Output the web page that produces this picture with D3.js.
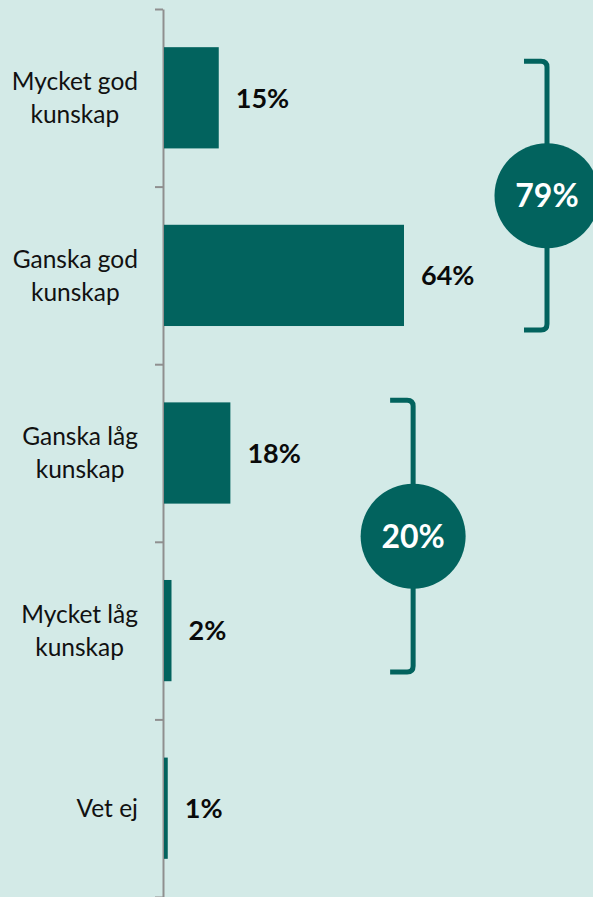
<!DOCTYPE html>
<html>
<head>
<meta charset="utf-8">
<script src="https://cdn.jsdelivr.net/npm/d3@7"></script>
<style>
  html, body { margin: 0; padding: 0; background: #d3eae7; }
  svg { display: block; font-family: Lato, "Open Sans", sans-serif; }
  .cat { font-size: 24.5px; fill: #111; }
  .val { font-size: 27px; font-weight: 700; fill: #0a0a0a; }
  .bubble-text { font-size: 32px; font-weight: 700; fill: #fff; }
</style>
</head>
<body>
<div id="chart"></div>
<script>
const categories = ['Mycket god kunskap', 'Ganska god kunskap', 'Ganska låg kunskap', 'Mycket låg kunskap', 'Vet ej'];
const values = [14.6, 64, 17.7, 2, 1];
const valueLabels = ['15%', '64%', '18%', '2%', '1%'];

// summary brackets: first/last category index, label, x position in percent units
const groupLabels = ['79%', '20%'];
const groupFrom = [0, 2];
const groupTo = [1, 3];
const groupAt = [102.4, 66.7];
const groupTopFrac = [0.14, -0.02];
const groupBottomFrac = [1.04, 0.91];

const width = 593, height = 897;
const margin = { top: 9, left: 163 };
const teal = '#02635e';

const svg = d3.select('#chart').append('svg')
  .attr('width', width)
  .attr('height', height);

svg.append('rect')
  .attr('width', width).attr('height', height)
  .attr('fill', '#d3eae7');

const x = d3.scaleLinear()
  .domain([0, 100])
  .range([margin.left, margin.left + 375]);

const y = d3.scaleBand()
  .domain(categories)
  .range([margin.top, height])
  .paddingInner(0.43)
  .paddingOuter(0.215);

const bw = y.bandwidth();

// axis with ticks on band boundaries
const yEdges = d3.scaleLinear()
  .domain([0, categories.length])
  .range([margin.top, height]);

const axisG = svg.append('g')
  .attr('transform', 'translate(' + margin.left + ',0)')
  .call(d3.axisLeft(yEdges)
    .tickValues(d3.range(0, categories.length + 1))
    .tickSize(8)
    .tickSizeOuter(0)
    .tickFormat(''));
axisG.selectAll('path, line').attr('stroke', '#8f8f8f').attr('stroke-width', 2);

// bars
svg.append('g').selectAll('rect')
  .data(values)
  .enter().append('rect')
    .attr('x', x(0) + 1)
    .attr('y', (d, i) => y(categories[i]))
    .attr('width', d => x(d) - x(0))
    .attr('height', bw)
    .attr('fill', teal);

// value labels
svg.append('g').selectAll('text')
  .data(values)
  .enter().append('text')
    .attr('class', 'val')
    .attr('x', d => x(d) + 18)
    .attr('y', (d, i) => y(categories[i]) + bw / 2)
    .attr('dy', '0.36em')
    .text((d, i) => valueLabels[i]);

// category labels: block right-aligned, lines centred
const labelRight = 138;
categories.forEach((c, i) => {
  const words = c.split(' ');
  const lines = words.length > 2 ? [words.slice(0, 2).join(' '), words.slice(2).join(' ')] : [c];
  const t = svg.append('text')
    .attr('class', 'cat')
    .attr('text-anchor', 'middle');
  const lh = 33;
  const cy = y(c) + bw / 2;
  const spans = lines.map((l, k) => t.append('tspan')
    .attr('y', cy - (lines.length - 1) * lh / 2 + k * lh)
    .attr('dy', '0.36em')
    .text(l));
  const maxW = d3.max(spans, s => s.node().getComputedTextLength());
  spans.forEach(s => s.attr('x', labelRight - maxW / 2));
});

// brackets with bubbles
groupLabels.forEach((lab, i) => {
  const bx = x(groupAt[i]);
  const top = y(categories[groupFrom[i]]) + groupTopFrac[i] * bw;
  const bot = y(categories[groupTo[i]]) + groupBottomFrac[i] * bw;
  const arm = 23, r = 6;
  const g = svg.append('g');
  g.append('path')
    .attr('d', 'M' + (bx - arm) + ',' + top +
      ' L' + (bx - r) + ',' + top +
      ' Q' + bx + ',' + top + ' ' + bx + ',' + (top + r) +
      ' L' + bx + ',' + (bot - r) +
      ' Q' + bx + ',' + bot + ' ' + (bx - r) + ',' + bot +
      ' L' + (bx - arm) + ',' + bot)
    .attr('fill', 'none')
    .attr('stroke', teal)
    .attr('stroke-width', 5);
  g.append('circle')
    .attr('cx', bx)
    .attr('cy', (top + bot) / 2)
    .attr('r', 52.5)
    .attr('fill', teal);
  g.append('text')
    .attr('class', 'bubble-text')
    .attr('x', bx)
    .attr('y', (top + bot) / 2)
    .attr('dy', '0.36em')
    .attr('text-anchor', 'middle')
    .text(lab);
});
</script>
</body>
</html>
